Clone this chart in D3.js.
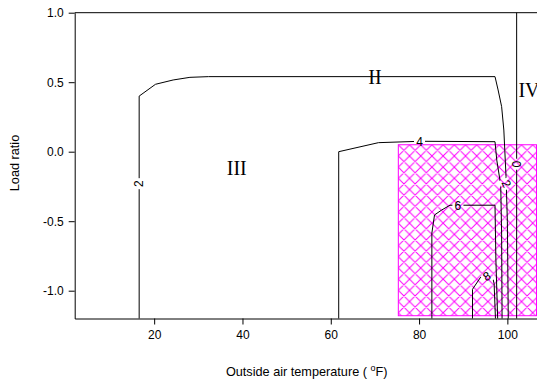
<!DOCTYPE html>
<html>
<head>
<meta charset="utf-8">
<script src="https://cdn.jsdelivr.net/npm/d3@7"></script>
<style>
  body { margin: 0; background: #fff; }
  svg { display: block; }
  .axis text { font-family: Arial, "Liberation Sans", sans-serif; font-size: 12px; fill: #000; }
  .axis path, .axis line { stroke: #000; stroke-width: 1; }
</style>
</head>
<body>
<div id="chart"></div>
<script>
// axis ticks
const tempTicks = [20, 40, 60, 80, 100];
const ratioTicks = [-1.0, -0.5, 0.0, 0.5, 1.0];

// contour lines, [outside temperature, load ratio]
const contour0 = [[102.1, 1.0], [102.1, -1.2]];
const contour2 = [[16.6, -1.2], [16.6, 0.40], [20.3, 0.485], [24.3, 0.516], [28.1, 0.535], [32.3, 0.54],
  [97.2, 0.54], [97.9, 0.444], [98.7, 0.324], [99.2, 0.156], [99.7, -0.18], [100.0, -0.5], [100.2, -1.2]];
const contour4 = [[61.8, -1.2], [61.8, 0.0], [70.8, 0.065], [80.2, 0.075], [97.2, 0.072],
  [97.6, -0.06], [98.5, -0.24], [98.7, -0.6], [98.8, -1.2]];
const contour6 = [[82.9, -1.2], [82.9, -0.585], [83.5, -0.455], [85.1, -0.42], [87.0, -0.385],
  [97.2, -0.385], [97.4, -0.78], [97.8, -1.2]];
const contour8 = [[92.1, -1.2], [92.1, -0.99], [94.0, -0.9], [96.6, -0.895], [97.0, -0.95], [97.3, -1.2]];
const contours = [contour0, contour2, contour4, contour6, contour8];

// contour labels
const labelText = ["2", "4", "6", "8", "2", "0"];
const labelTemp = [16.6, 80.1, 88.8, 95.3, 99.8, 102.1];
const labelRatio = [-0.23, 0.07, -0.385, -0.895, -0.23, -0.09];
const labelAngle = [-90, 0, 0, -30, 65, 90];

// region names
const regionNames = ["II", "III", "IV"];
const regionTemp = [70.0, 38.7, 102.5];
const regionRatio = [0.49, -0.17, 0.39];

// hatched zone
const hatchTemp = [75.3, 106.6];
const hatchRatio = [-1.18, 0.05];

const W = 537, H = 383;
const margin = {left: 74.7, top: 12.7, bottom: 318.5};

const x = d3.scaleLinear().domain([2, 110]).range([margin.left, margin.left + 108 * 4.415]);
const y = d3.scaleLinear().domain([-1.2, 1.0]).range([margin.bottom, margin.top]);

const svg = d3.select("#chart").append("svg")
  .attr("width", W).attr("height", H);

const defs = svg.append("defs");

// crosshatch pattern
const pat = defs.append("pattern")
  .attr("id", "hatch")
  .attr("patternUnits", "userSpaceOnUse")
  .attr("x", x(hatchTemp[0])).attr("y", y(hatchRatio[1]))
  .attr("width", 11.2).attr("height", 11.2);
pat.append("path")
  .attr("d", "M0,0L11.2,11.2M11.2,0L0,11.2M-1,1L1,-1M10.2,12.2L12.2,10.2M-1,10.2L1,12.2M10.2,-1L12.2,1")
  .attr("stroke", "#ff00ff").attr("stroke-width", 1).attr("fill", "none");

// mask for gaps under contour labels
const mask = defs.append("mask").attr("id", "gaps").attr("maskUnits", "userSpaceOnUse")
  .attr("x", 0).attr("y", 0).attr("width", W).attr("height", H);
mask.append("rect").attr("width", W).attr("height", H).attr("fill", "#fff");
labelText.forEach((t, i) => {
  mask.append("rect")
    .attr("x", -5.5).attr("y", -6.5).attr("width", 11).attr("height", 13)
    .attr("fill", "#000")
    .attr("transform", `translate(${x(labelTemp[i])},${y(labelRatio[i])}) rotate(${labelAngle[i]})`);
});

// hatched rectangle
svg.append("rect")
  .attr("x", x(hatchTemp[0])).attr("y", y(hatchRatio[1]))
  .attr("width", x(hatchTemp[1]) - x(hatchTemp[0]))
  .attr("height", y(hatchRatio[0]) - y(hatchRatio[1]))
  .attr("fill", "url(#hatch)")
  .attr("stroke", "#ff00ff").attr("stroke-width", 1);

// contours
const line = d3.line().x(d => x(d[0])).y(d => y(d[1]));
svg.append("g").attr("mask", "url(#gaps)")
  .selectAll("path").data(contours).enter().append("path")
  .attr("d", line)
  .attr("fill", "none").attr("stroke", "#000").attr("stroke-width", 1);

svg.append("g").selectAll("text").data(labelText).enter().append("text")
  .attr("transform", (d, i) => `translate(${x(labelTemp[i])},${y(labelRatio[i])}) rotate(${labelAngle[i]})`)
  .attr("text-anchor", "middle").attr("dy", "0.36em")
  .style("font-family", "Arial, 'Liberation Sans', sans-serif").style("font-size", "12px")
  .text(d => d);

// region labels
svg.append("g").selectAll("text").data(regionNames).enter().append("text")
  .attr("x", (d, i) => x(regionTemp[i])).attr("y", (d, i) => y(regionRatio[i]))
  .attr("text-anchor", (d, i) => i === 2 ? "start" : "middle")
  .style("font-family", "'Times New Roman', 'Liberation Serif', serif").style("font-size", "20px")
  .text(d => d);

// frame and axes
svg.append("line")
  .attr("x1", margin.left).attr("x2", W)
  .attr("y1", margin.top).attr("y2", margin.top)
  .attr("stroke", "#000").attr("stroke-width", 1);

svg.append("g").attr("class", "axis")
  .attr("transform", `translate(0,${margin.bottom})`)
  .call(d3.axisBottom(x).tickValues(tempTicks).tickSize(6).tickSizeOuter(0).tickPadding(6));

svg.append("g").attr("class", "axis")
  .attr("transform", `translate(${margin.left},0)`)
  .call(d3.axisLeft(y).tickValues(ratioTicks).tickSize(6).tickSizeOuter(0).tickPadding(5)
    .tickFormat(d => d.toFixed(1)));

// axis titles
svg.append("text")
  .attr("transform", "translate(19,163) rotate(-90)")
  .attr("text-anchor", "middle")
  .style("font-family", "Arial, 'Liberation Sans', sans-serif").style("font-size", "12.7px")
  .text("Load ratio");

const xt = svg.append("text")
  .attr("x", 306.7).attr("y", 376)
  .attr("text-anchor", "middle")
  .style("font-family", "Arial, 'Liberation Sans', sans-serif").style("font-size", "12.7px");
xt.append("tspan").text("Outside air temperature ( ");
xt.append("tspan").attr("dy", -5).style("font-size", "9px").text("o");
xt.append("tspan").attr("dy", 5).text("F)");
</script>
</body>
</html>
